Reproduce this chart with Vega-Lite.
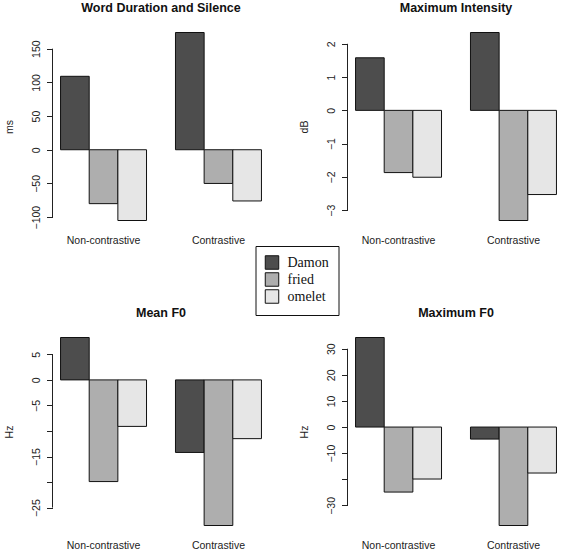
{
  "$schema": "https://vega.github.io/schema/vega-lite/v6.json",
  "background": "white",
  "padding": {"left": 3.5, "top": 1, "right": 0, "bottom": 0},
  "datasets": {
    "acoustics": [
      {"measure": "Word Duration and Silence", "contrast": "Non-contrastive", "word": "Damon", "value": 109},
      {"measure": "Word Duration and Silence", "contrast": "Non-contrastive", "word": "fried", "value": -80},
      {"measure": "Word Duration and Silence", "contrast": "Non-contrastive", "word": "omelet", "value": -105},
      {"measure": "Word Duration and Silence", "contrast": "Contrastive", "word": "Damon", "value": 174},
      {"measure": "Word Duration and Silence", "contrast": "Contrastive", "word": "fried", "value": -50},
      {"measure": "Word Duration and Silence", "contrast": "Contrastive", "word": "omelet", "value": -76},
      {"measure": "Maximum Intensity", "contrast": "Non-contrastive", "word": "Damon", "value": 1.58},
      {"measure": "Maximum Intensity", "contrast": "Non-contrastive", "word": "fried", "value": -1.87},
      {"measure": "Maximum Intensity", "contrast": "Non-contrastive", "word": "omelet", "value": -2.01},
      {"measure": "Maximum Intensity", "contrast": "Contrastive", "word": "Damon", "value": 2.34},
      {"measure": "Maximum Intensity", "contrast": "Contrastive", "word": "fried", "value": -3.31},
      {"measure": "Maximum Intensity", "contrast": "Contrastive", "word": "omelet", "value": -2.53},
      {"measure": "Mean F0", "contrast": "Non-contrastive", "word": "Damon", "value": 8.3},
      {"measure": "Mean F0", "contrast": "Non-contrastive", "word": "fried", "value": -19.9},
      {"measure": "Mean F0", "contrast": "Non-contrastive", "word": "omelet", "value": -9.1},
      {"measure": "Mean F0", "contrast": "Contrastive", "word": "Damon", "value": -14.2},
      {"measure": "Mean F0", "contrast": "Contrastive", "word": "fried", "value": -28.5},
      {"measure": "Mean F0", "contrast": "Contrastive", "word": "omelet", "value": -11.5},
      {"measure": "Maximum F0", "contrast": "Non-contrastive", "word": "Damon", "value": 34.3},
      {"measure": "Maximum F0", "contrast": "Non-contrastive", "word": "fried", "value": -24.9},
      {"measure": "Maximum F0", "contrast": "Non-contrastive", "word": "omelet", "value": -19.9},
      {"measure": "Maximum F0", "contrast": "Contrastive", "word": "Damon", "value": -4.6},
      {"measure": "Maximum F0", "contrast": "Contrastive", "word": "fried", "value": -37.7},
      {"measure": "Maximum F0", "contrast": "Contrastive", "word": "omelet", "value": -17.6}
    ]
  },
  "data": {"name": "acoustics"},
  "config": {
    "font": "Liberation Sans",
    "view": {"stroke": null},
    "title": {"fontSize": 12.5, "fontWeight": "bold", "color": "#111", "offset": 11, "anchor": "middle"},
    "axis": {
      "grid": false,
      "labelFontSize": 10.5,
      "labelColor": "#222",
      "titleFontSize": 10.5,
      "titleFontWeight": "normal",
      "titleColor": "#222",
      "tickColor": "#222",
      "labelOverlap": false,
      "labelBound": false
    },
    "axisX": {"labelAngle": 0, "ticks": false, "domain": false, "labelPadding": 7, "title": null},
    "axisY": {
      "labelAngle": -90,
      "labelAlign": "center",
      "labelBaseline": "bottom",
      "tickSize": 6,
      "labelPadding": 5.5,
      "titlePadding": 16.5,
      "domain": false
    }
  },
  "bounds": "flush",
  "columns": 2,
  "spacing": {"row": 102, "column": 78},
  "concat": [
    {
      "title": "Word Duration and Silence",
      "width": 217,
      "height": 203,
      "layer": [
        {
          "transform": [{"filter": "datum.measure === 'Word Duration and Silence'"}],
          "mark": {"type": "bar", "stroke": "#111", "strokeWidth": 1},
          "encoding": {
            "x": {"field": "contrast", "type": "nominal", "sort": ["Non-contrastive", "Contrastive"], "scale": {"paddingInner": 0.252, "paddingOuter": 0.07}},
            "xOffset": {"field": "word", "type": "nominal", "sort": ["Damon", "fried", "omelet"], "scale": {"paddingInner": 0, "paddingOuter": 0}},
            "y": {"field": "value", "type": "quantitative", "scale": {"nice": false, "zero": true, "padding": 7.5}, "axis": {"title": "ms", "values": [-100, -50, 0, 50, 100, 150], "labelOverlap": false}},
            "color": {
              "field": "word", "type": "nominal",
              "scale": {"domain": ["Damon", "fried", "omelet"], "range": ["#4D4D4D", "#AEAEAE", "#E6E6E6"]},
              "legend": {
                "orient": "none", "legendX": 203, "legendY": 221,
                "title": null, "symbolType": "square", "symbolSize": 182,
                "symbolStrokeColor": "#111", "symbolStrokeWidth": 1, "symbolOpacity": 1,
                "labelFont": "Liberation Serif", "labelFontSize": 14, "labelColor": "#111",
                "labelOffset": 8, "rowPadding": -2.5,
                "strokeColor": "#111", "fillColor": "white", "padding": 9
              }
            }
          }
        },
        {
          "data": {"values": [{}]},
          "mark": {"type": "rule", "color": "#222", "strokeWidth": 1},
          "encoding": {"x": {"value": 0}, "y": {"datum": -100, "axis": {"title": "ms", "values": [-100, -50, 0, 50, 100, 150], "labelOverlap": false}}, "y2": {"datum": 150}}
        }
      ]
    },
    {
      "title": "Maximum Intensity",
      "width": 217,
      "height": 203,
      "layer": [
        {
          "transform": [{"filter": "datum.measure === 'Maximum Intensity'"}],
          "mark": {"type": "bar", "stroke": "#111", "strokeWidth": 1},
          "encoding": {
            "x": {"field": "contrast", "type": "nominal", "sort": ["Non-contrastive", "Contrastive"], "scale": {"paddingInner": 0.252, "paddingOuter": 0.07}},
            "xOffset": {"field": "word", "type": "nominal", "sort": ["Damon", "fried", "omelet"], "scale": {"paddingInner": 0, "paddingOuter": 0}},
            "y": {"field": "value", "type": "quantitative", "scale": {"nice": false, "zero": true, "padding": 7.5}, "axis": {"title": "dB", "values": [-3, -2, -1, 0, 1, 2], "labelOverlap": false}},
            "color": {"field": "word", "type": "nominal"}
          }
        },
        {
          "data": {"values": [{}]},
          "mark": {"type": "rule", "color": "#222", "strokeWidth": 1},
          "encoding": {"x": {"value": 0}, "y": {"datum": -3, "axis": {"title": "dB", "values": [-3, -2, -1, 0, 1, 2], "labelOverlap": false}}, "y2": {"datum": 2}}
        }
      ]
    },
    {
      "title": "Mean F0",
      "width": 217,
      "height": 203,
      "layer": [
        {
          "transform": [{"filter": "datum.measure === 'Mean F0'"}],
          "mark": {"type": "bar", "stroke": "#111", "strokeWidth": 1},
          "encoding": {
            "x": {"field": "contrast", "type": "nominal", "sort": ["Non-contrastive", "Contrastive"], "scale": {"paddingInner": 0.252, "paddingOuter": 0.07}},
            "xOffset": {"field": "word", "type": "nominal", "sort": ["Damon", "fried", "omelet"], "scale": {"paddingInner": 0, "paddingOuter": 0}},
            "y": {"field": "value", "type": "quantitative", "scale": {"nice": false, "zero": true, "padding": 7.5}, "axis": {"title": "Hz", "values": [-25, -20, -15, -10, -5, 0, 5], "labelOverlap": false, "labelExpr": "datum.value == -10 || datum.value == -20 ? '' : datum.label"}},
            "color": {"field": "word", "type": "nominal"}
          }
        },
        {
          "data": {"values": [{}]},
          "mark": {"type": "rule", "color": "#222", "strokeWidth": 1},
          "encoding": {"x": {"value": 0}, "y": {"datum": -25, "axis": {"title": "Hz", "values": [-25, -20, -15, -10, -5, 0, 5], "labelOverlap": false, "labelExpr": "datum.value == -10 || datum.value == -20 ? '' : datum.label"}}, "y2": {"datum": 5}}
        }
      ]
    },
    {
      "title": "Maximum F0",
      "width": 217,
      "height": 203,
      "layer": [
        {
          "transform": [{"filter": "datum.measure === 'Maximum F0'"}],
          "mark": {"type": "bar", "stroke": "#111", "strokeWidth": 1},
          "encoding": {
            "x": {"field": "contrast", "type": "nominal", "sort": ["Non-contrastive", "Contrastive"], "scale": {"paddingInner": 0.252, "paddingOuter": 0.07}},
            "xOffset": {"field": "word", "type": "nominal", "sort": ["Damon", "fried", "omelet"], "scale": {"paddingInner": 0, "paddingOuter": 0}},
            "y": {"field": "value", "type": "quantitative", "scale": {"nice": false, "zero": true, "padding": 7.5}, "axis": {"title": "Hz", "values": [-30, -20, -10, 0, 10, 20, 30], "labelOverlap": false, "labelExpr": "datum.value == -20 ? '' : datum.label"}},
            "color": {"field": "word", "type": "nominal"}
          }
        },
        {
          "data": {"values": [{}]},
          "mark": {"type": "rule", "color": "#222", "strokeWidth": 1},
          "encoding": {"x": {"value": 0}, "y": {"datum": -30, "axis": {"title": "Hz", "values": [-30, -20, -10, 0, 10, 20, 30], "labelOverlap": false, "labelExpr": "datum.value == -20 ? '' : datum.label"}}, "y2": {"datum": 30}}
        }
      ]
    }
  ]
}
